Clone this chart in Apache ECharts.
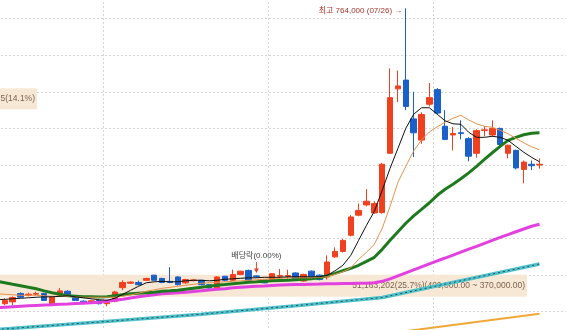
<!DOCTYPE html>
<html><head><meta charset="utf-8">
<script src="https://cdn.jsdelivr.net/npm/echarts@6/dist/echarts.min.js"></script>
<style>html,body{margin:0;padding:0;background:#fff;overflow:hidden;width:566px;height:330px;position:relative}
#c{position:absolute;left:-7px;top:-18px;width:574px;height:366px}</style>
</head><body><div id="c"></div>
<script>
// trading days: one leading day (only MAs visible), 69 candles, 3 empty days at the right
const dates = ['2023-05-11','2023-05-12','2023-05-15','2023-05-16','2023-05-17','2023-05-18','2023-05-19','2023-05-22','2023-05-23','2023-05-24','2023-05-25','2023-05-26','2023-05-30','2023-05-31',
'2023-06-01','2023-06-02','2023-06-05','2023-06-07','2023-06-08','2023-06-09','2023-06-12','2023-06-13','2023-06-14','2023-06-15','2023-06-16','2023-06-19','2023-06-20','2023-06-21','2023-06-22','2023-06-23','2023-06-26','2023-06-27','2023-06-28','2023-06-29','2023-06-30',
'2023-07-03','2023-07-04','2023-07-05','2023-07-06','2023-07-07','2023-07-10','2023-07-11','2023-07-12','2023-07-13','2023-07-14','2023-07-17','2023-07-18','2023-07-19','2023-07-20','2023-07-21','2023-07-24','2023-07-25','2023-07-26','2023-07-27','2023-07-28','2023-07-31',
'2023-08-01','2023-08-02','2023-08-03','2023-08-04','2023-08-07','2023-08-08','2023-08-09','2023-08-10','2023-08-11','2023-08-14','2023-08-16','2023-08-17','2023-08-18','2023-08-21',
'2023-08-22','2023-08-23','2023-08-24'];

const open = [360500,363000,374500,372000,373500,374500,360500,372000,377500,368500,
364000,362500,365000,360500,364000,382500,388500,389500,392500,399500,
395000,391000,397000,389000,392000,392500,386500,382000,398000,392500,
400500,406000,398500,392500,391500,398000,398000,402500,391500,405000,
399500,397000,424500,432000,454000,481500,495500,484500,485000,566000,
654000,666000,613000,584000,633000,653000,603000,591000,594000,586000,
566000,597000,591000,600000,566000,570000,544000,551000,550000];
const close = [365000,369000,369500,373500,374500,365000,369500,378000,371000,365000,
361500,364500,360500,362000,376500,389500,390000,386500,395000,392500,
389500,389500,386500,393500,393000,386500,382000,397000,392500,400500,
405000,390000,397500,389000,401500,399000,399000,395000,400500,398000,
393500,417500,432000,447000,479000,488000,500500,497500,551000,642000,
658000,630000,594000,619000,642000,621000,585000,593000,593000,562000,
597000,598000,600000,578000,577000,546000,554000,549000,551000];
const low = [358500,358500,368500,370500,372000,364500,359500,370500,370000,364500,
360500,361000,359500,357000,362500,379000,387500,385500,392000,392000,
388500,388500,385500,387500,391000,385500,381000,380000,391000,392000,
399500,389000,396000,388500,390500,395000,394000,394000,390500,397000,
392500,393500,423000,430500,452500,480000,493500,483500,483500,565000,
636000,625000,561000,579000,630000,619000,584000,570000,585000,555000,
560000,589000,589000,576000,559000,544000,525000,543000,545000];
const high = [368000,370500,376000,375500,377000,375500,370500,382000,379000,370000,
365000,366000,366500,365000,378000,392500,391000,392000,396000,400000,
396000,410500,398000,394500,394000,393000,387500,398000,398500,407000,
405500,407000,399500,393000,402500,408000,407000,403500,401500,406000,
400500,426500,437500,449000,481500,497500,517000,500500,553000,682000,
679000,764000,650000,622000,662000,655000,625000,602000,611000,588000,
599000,603000,611000,601000,578000,571000,556000,556000,559000];

// moving averages (first value = leading day)
const ma5 = [365900,366500,367200,367900,368600,369300,369900,369900,370600,371300,369900,
368600,367200,365900,365200,367900,373400,378800,384300,389100,390400,
391100,390400,390400,391800,392500,392500,391800,392500,393900,394500,
395200,395900,395900,396600,396600,396600,397300,397300,397300,397300,
397300,399300,405500,413000,426600,447100,467600,486800,515400,545500,
572800,600100,619300,628200,628200,619300,610400,606300,605600,594700,
587800,587800,589200,587800,583700,575500,567400,560500,554400];
const ma10 = [374000,373400,372700,372000,372000,372000,371300,370600,370600,370600,369900,
369300,369300,369300,369300,369300,370600,372700,374700,377500,379500,
381600,382900,384300,385700,387000,388400,389100,389800,390400,391100,
391800,392500,393200,393900,394500,395200,395900,395900,395900,395900,
396600,397300,400700,404100,409600,421200,430700,441700,463500,493600,
526400,548200,569300,584200,595200,602200,608300,613800,617900,611500,
606300,602900,601500,597400,592600,586500,580300,574900,570800];
const ma20 = [391100,389100,387000,385000,382900,380900,378100,375400,373400,371300,370600,
369900,369900,369700,369900,371300,372700,374000,374700,375400,376100,
377500,378100,378800,380200,381600,382900,384300,385700,386600,387700,
388800,389800,390400,391100,391800,392200,392500,393200,393900,394500,
395900,398600,402000,405500,408900,413000,418400,423900,434800,447100,
458800,470400,480600,489500,498400,508600,516800,523600,531200,539300,
548200,557800,566700,575500,583700,587800,591300,593300,594000];
const ma60 = [354900,355600,356300,357000,357600,358100,358600,359000,359700,360200,360800,
361300,361700,362400,363800,365200,366500,368200,369900,371300,372700,
374000,374700,375400,376100,377100,378100,379200,380200,381100,382200,
382900,383600,384300,384800,385400,385900,386300,386600,386900,387200,
387400,387700,387800,388000,388100,388300,388400,389100,391100,394500,
398600,402700,406800,410900,415000,419100,422900,426900,431000,435100,
438900,443000,447100,451200,454900,458800,462600,466300,469000];
// long averages: vertices read where the line bends
const ma120 = [['2023-05-11',325300],['2023-05-31',335500],['2023-06-20',346200],['2023-07-06',357800],['2023-07-21',368900],['2023-08-21',414800]];
const ma240 = [['2023-07-21',318700],['2023-08-21',346700]];

const monthStarts = ['2023-06-01','2023-07-03','2023-08-01'];
const yMin = 300000, yMax = 800000, yStep = 50000;
const highMark = {date:'2023-07-26', price:764000, text:'최고 764,000 (07/26) →'};
const exDiv = {date:'2023-06-29', price:410000, text:'배당락(0.00%)'};
const volBands = [
  {label:'51,163,202(25.7%)(400,000.00 ~ 370,000.00)', top:400000, bottom:370000},
  {label:'5(14.1%)', top:655000, bottom:626000}
];

const FONT = "'Liberation Sans','Noto Sans CJK KR',sans-serif";
const dash = {color:'#d5d5d5', type:[2,2], width:1};
const candleData = ['-'].concat(open.map((o,i)=>[o, close[i], low[i], high[i]]));
const bandRight = [534, 44]; // canvas px (canvas is shifted 7px left of the window)

const chart = echarts.init(document.getElementById('c'), null, {renderer:'canvas', width:574, height:366});
chart.setOption({
  animation:false,
  backgroundColor:'#ffffff',
  grid:{left:0, right:0, top:0, bottom:0},
  xAxis:{type:'category', data:dates, boundaryGap:true,
    axisLine:{show:false}, axisTick:{show:false}, axisLabel:{show:false},
    splitLine:{show:true, interval:(i, v)=>monthStarts.indexOf(v) >= 0, lineStyle:dash}},
  yAxis:{type:'value', min:yMin, max:yMax, interval:yStep,
    axisLine:{show:false}, axisTick:{show:false}, axisLabel:{show:false},
    splitLine:{show:true, lineStyle:dash}},
  series:[
    {type:'candlestick', name:'일봉', data:candleData, barWidth:6, silent:true,
      itemStyle:{color:'#f0401f', color0:'#1b5fc9', borderColor:'#f0401f', borderColor0:'#1b5fc9', borderWidth:1},
      markArea:{silent:true, itemStyle:{color:'#f7e8d5'},
        label:{show:true, position:'insideRight', distance:2, color:'#7d634d', fontSize:8.5, fontFamily:FONT},
        data: volBands.map((b,k)=>[{name:b.label, x:0, yAxis:b.top}, {x:bandRight[k], yAxis:b.bottom}])},
      markPoint:{silent:true, data:[
        {coord:[highMark.date, highMark.price], symbol:'circle', symbolSize:1, itemStyle:{color:'rgba(0,0,0,0)'},
          label:{show:true, position:'left', distance:3, offset:[0,2], formatter:highMark.text, color:'#a8352c', fontSize:8, fontFamily:FONT}},
        {coord:[exDiv.date, exDiv.price], symbol:'path://M2,0 L3,0 L3,6 L5,6 L2.5,10 L0,6 L2,6 Z', symbolSize:[5,11], symbolKeepAspect:false,
          itemStyle:{color:'#e8432a'},
          label:{show:true, position:'top', distance:2, formatter:exDiv.text, color:'#444', fontSize:8, fontFamily:FONT}}
      ]}
    },
    {type:'line', name:'240', data:ma240, symbol:'none', silent:true, lineStyle:{color:'#f0a838', width:2}},
    {type:'line', name:'120', data:ma120, symbol:'none', silent:true, lineStyle:{color:'#4fc1cb', width:3.5}},
    {type:'line', name:'120b', data:ma120, symbol:'none', silent:true, lineStyle:{color:'#27505a', width:1, type:[2,3]}},
    {type:'line', name:'60', data:ma60, symbol:'none', silent:true, lineStyle:{color:'#e241df', width:3}},
    {type:'line', name:'20', data:ma20, symbol:'none', silent:true, lineStyle:{color:'#1f7a1f', width:3}},
    {type:'line', name:'10', data:ma10, symbol:'none', silent:true, lineStyle:{color:'#e5924c', width:1}},
    {type:'line', name:'5', data:ma5, symbol:'none', silent:true, lineStyle:{color:'#111', width:1}}
  ]
});
</script>
</body></html>
